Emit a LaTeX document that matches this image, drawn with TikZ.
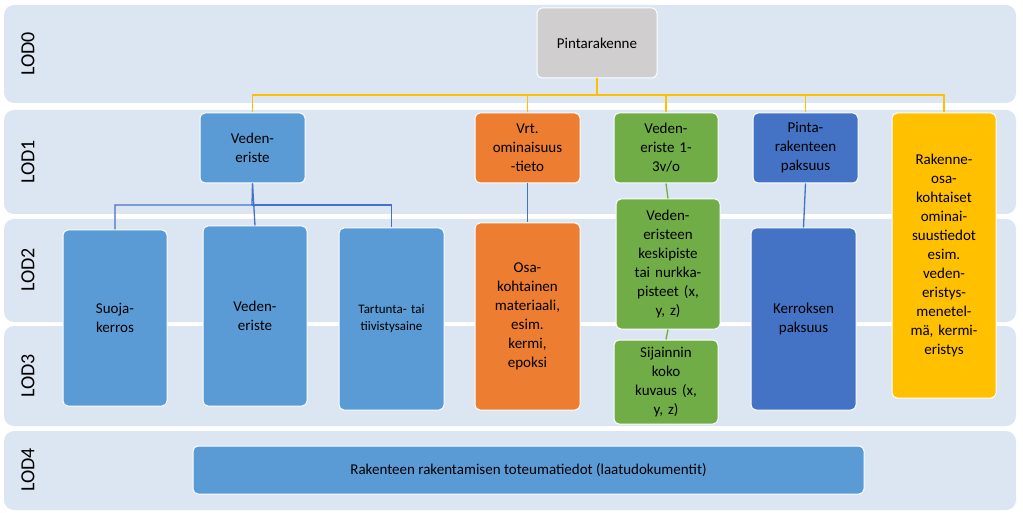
\documentclass[tikz,border=0pt]{standalone}
\usepackage{fontspec}
\setmainfont{Carlito}
\definecolor{band}{HTML}{DCE6F2}
\definecolor{gr}{HTML}{D0CECE}
\definecolor{bl}{HTML}{5B9BD5}
\definecolor{dbl}{HTML}{4472C4}
\definecolor{orn}{HTML}{ED7D31}
\definecolor{grn}{HTML}{70AD47}
\definecolor{gld}{HTML}{FFC000}
\begin{document}
\begin{tikzpicture}[x=1pt,y=-1pt,
  bandbox/.style={fill=band,rounded corners=10pt},
  lod/.style={rotate=90,font=\fontsize{20}{22}\selectfont},
  bx/.style={draw=white,line width=1pt,rounded corners=5pt,font=\fontsize{15}{19}\selectfont,align=center,inner sep=2pt},
  yl/.style={draw=gld,line width=1.3pt},
  cl/.style={draw=dbl,line width=1.3pt},
  gl/.style={draw=grn,line width=1.3pt}]
\useasboundingbox (0,0) rectangle (1023,513);
\fill[bandbox] (4,5) rectangle (1016,103);
\fill[bandbox] (4,110) rectangle (1016,214);
\fill[bandbox] (4,219) rectangle (1016,322);
\fill[bandbox] (4,326) rectangle (1016,426);
\fill[bandbox] (4,431) rectangle (1016,510);
\node[lod] (l0) at (28,54) {LOD0};
\node[lod] (l1) at (28,162) {LOD1};
\node[lod] (l2) at (28,270) {LOD2};
\node[lod] (l3) at (28,376) {LOD3};
\node[lod] (l4) at (28,470) {LOD4};
\newcommand{\bxat}[7]{\node[bx,fill=#6,minimum width=#3-#1,minimum height=#4-#2,text width=#3-#1-8] (#5) at ({(#1+#3)/2},{(#2+#4)/2}) {#7};}
\bxat{537}{8}{657}{78}{p}{gr}{Pintarakenne}
\bxat{200}{113}{305}{183}{a}{bl}{Veden-\\eriste}
\bxat{475}{113}{580}{183}{b}{orn}{Vrt.\\ominaisuus\\-tieto}
\bxat{614}{113}{718}{183}{c}{grn}{Veden-\\eriste 1-\\3v/o}
\bxat{753}{113}{858}{183}{d}{dbl}{Pinta-\\rakenteen\\paksuus}
\bxat{892}{113}{996}{398}{e}{gld}{Rakenne-\\osa-\\kohtaiset\\ominai-\\suustiedot\\esim.\\veden-\\eristys-\\menetel-\\mä, kermi-\\eristys}
\bxat{63}{230}{167}{406}{a1}{bl}{Suoja-\\kerros}
\bxat{203}{226}{307}{406}{a2}{bl}{Veden-\\eriste}
\node[bx,fill=bl,minimum width=105,minimum height=182,text width=100,font=\fontsize{13}{17}\selectfont] (a3) at (391.5,319) {Tartunta- tai\\tiivistysaine};
\bxat{475}{223}{580}{410}{b1}{orn}{Osa-\\kohtainen\\materiaali,\\esim.\\kermi,\\epoksi}
\bxat{616}{199}{720}{329}{c1}{grn}{Veden-\\eristeen\\keskipiste\\tai nurkka-\\pisteet (x,\\y, z)}
\bxat{614}{340}{718}{424}{c2}{grn}{Sijainnin\\koko\\kuvaus (x,\\y, z)}
\bxat{751}{228}{856}{410}{d1}{dbl}{Kerroksen\\paksuus}
\node[bx,fill=bl,minimum width=671,minimum height=48] (f) at (528.5,470) {Rakenteen rakentamisen toteumatiedot (laatudokumentit)};
\draw[yl] (p.south) -- (597,95) -| (a.north);
\draw[yl] (597,95) -| (e.north);
\draw[yl] (252,95) -| (252,95);
\draw[yl] (b.north) |- (597,95);
\draw[yl] (c.north) |- (597,95);
\draw[yl] (d.north) |- (597,95);
\draw[cl] (a.south) -- (252,205) -| (a1.north);
\draw[cl] (252,205) -| (a3.north);
\draw[cl] (a.south) -- (a2.north);
\draw[cl] (b.south) -- (b1.north);
\draw[gl] (c.south) -- (c1.north);
\draw[gl] (c1.south) -- (c2.north);
\draw[cl] (d.south) -- (d1.north);
\end{tikzpicture}
\end{document}
